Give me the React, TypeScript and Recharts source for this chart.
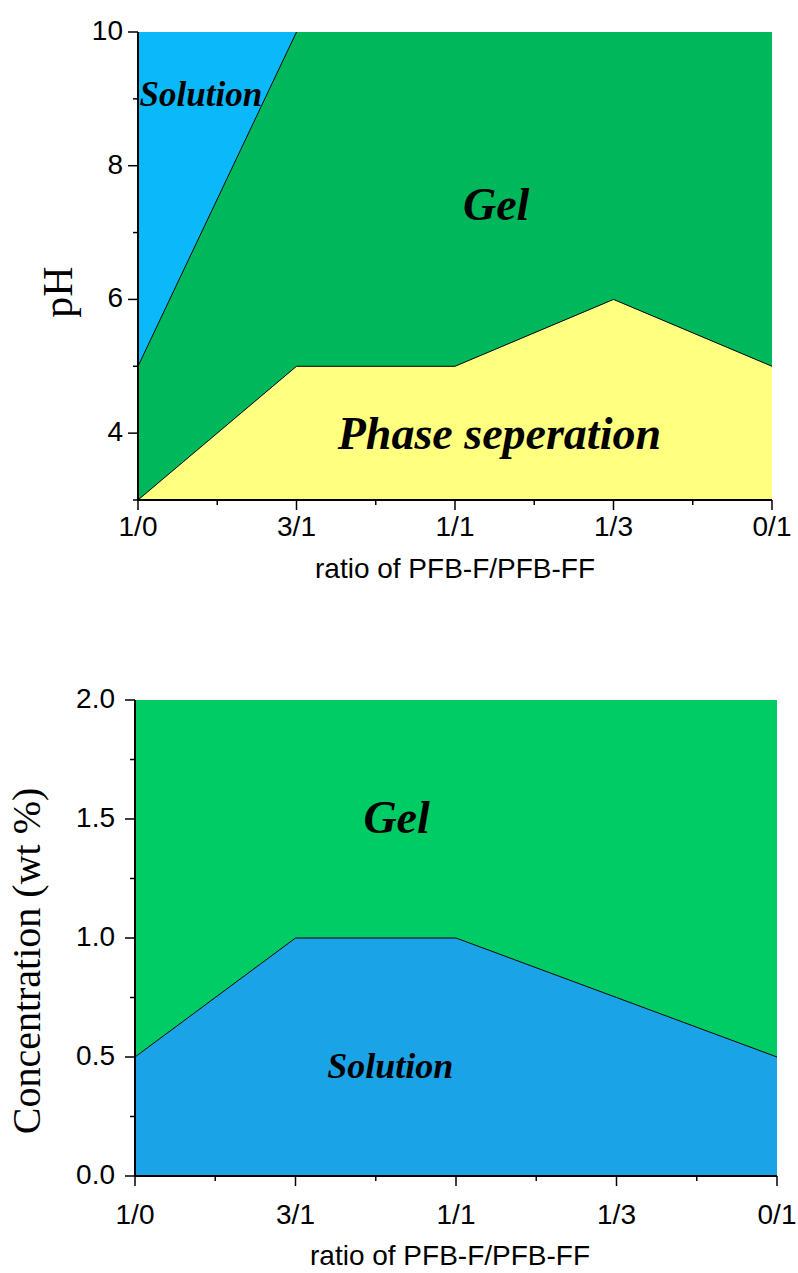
import { Area, ComposedChart, Line, ReferenceDot, XAxis, YAxis } from 'recharts';

const ratioLabels = ['1/0', '3/1', '1/1', '1/3', '0/1'];
const xTicks = [0, 0.5, 1, 1.5, 2, 2.5, 3, 3.5, 4];

// pH phase diagram
const pHDomain = [3, 10];
const pHTicks = [3, 4, 5, 6, 7, 8, 9, 10];
const pHMajor = [4, 6, 8, 10];
const phaseSeparationTop = [3, 5, 5, 6, 5];
const solutionBottom = [5, 10, 10, 10, 10];

// concentration phase diagram
const concDomain = [0, 2];
const concTicks = [0, 0.25, 0.5, 0.75, 1, 1.25, 1.5, 1.75, 2];
const concMajor = [0, 0.5, 1, 1.5, 2];
const gelBottom = [0.5, 1.0, 1.0, 0.75, 0.5];

const pHNotes = [
  { text: 'Solution', x: 0.01, y: 8.89, size: 35, anchor: 'start' },
  { text: 'Gel', x: 2.26, y: 7.19, size: 46, anchor: 'middle' },
  { text: 'Phase seperation', x: 2.28, y: 3.76, size: 46, anchor: 'middle' },
];
const concNotes = [
  { text: 'Gel', x: 1.63, y: 1.44, size: 46, anchor: 'middle' },
  { text: 'Solution', x: 1.59, y: 0.41, size: 36, anchor: 'middle' },
];

const SANS = '"Liberation Sans", Arial, sans-serif';
const SERIF = '"Liberation Serif", "Times New Roman", serif';

const pHData = ratioLabels.map((label, i) => ({
  x: i,
  label,
  yellow: [pHDomain[0], phaseSeparationTop[i]],
  green: [phaseSeparationTop[i], solutionBottom[i]],
  blue: [solutionBottom[i], pHDomain[1]],
  phaseLine: phaseSeparationTop[i],
  solLine: i === 0 || solutionBottom[i - 1] < pHDomain[1] ? solutionBottom[i] : null,
}));

const concData = ratioLabels.map((label, i) => ({
  x: i,
  label,
  blue: [concDomain[0], gelBottom[i]],
  green: [gelBottom[i], concDomain[1]],
  line: gelBottom[i],
}));

function leftTick(major: number[], gap: number, fmt: (v: number) => string) {
  return (props: any) => {
    const { x, y, payload } = props;
    const isMajor = major.includes(payload.value);
    return (
      <g>
        <line x1={x} x2={x - (isMajor ? 10 : 5)} y1={y} y2={y} stroke="#000" strokeWidth={1.5} />
        {isMajor && (
          <text x={x - gap} y={y} dy={8} textAnchor="end" fontFamily={SANS} fontSize={28} fill="#000">
            {fmt(payload.value)}
          </text>
        )}
      </g>
    );
  };
}

function bottomTick(offset: number) {
  return (props: any) => {
    const { x, y, payload } = props;
    const isMajor = Number.isInteger(payload.value);
    return (
      <g>
        <line x1={x} x2={x} y1={y} y2={y + (isMajor ? 10 : 5)} stroke="#000" strokeWidth={1.5} />
        {isMajor && (
          <text x={x} y={y + offset} textAnchor="middle" fontFamily={SANS} fontSize={28} fill="#000">
            {ratioLabels[payload.value]}
          </text>
        )}
      </g>
    );
  };
}

const topTick = (props: any) => (
  <line x1={props.x} x2={props.x} y1={props.y} y2={props.y + 3} stroke="#000" strokeWidth={1} />
);
const rightTick = (props: any) => (
  <line x1={props.x} x2={props.x + 3} y1={props.y} y2={props.y} stroke="#000" strokeWidth={1} />
);

function note(n: any) {
  return (
    <ReferenceDot
      key={n.text}
      x={n.x}
      y={n.y}
      r={0}
      ifOverflow="visible"
      shape={(p: any) => (
        <text
          x={p.cx}
          y={p.cy}
          textAnchor={n.anchor}
          fontFamily={SERIF}
          fontStyle="italic"
          fontWeight="bold"
          fontSize={n.size}
          fill="#000"
        >
          {n.text}
        </text>
      )}
    />
  );
}

function xTitle(dx: number, offset: number) {
  return ({ viewBox }: any) => (
    <text
      x={viewBox.x + viewBox.width / 2 + dx}
      y={viewBox.y + offset}
      textAnchor="middle"
      fontFamily={SANS}
      fontSize={28}
      fill="#000"
    >
      ratio of PFB-F/PFB-FF
    </text>
  );
}

function yTitle(text: string, baseX: number, dy: number, size: number) {
  return ({ viewBox }: any) => {
    const cy = viewBox.y + viewBox.height / 2 + dy;
    return (
      <text
        x={baseX}
        y={cy}
        transform={`rotate(-90, ${baseX}, ${cy})`}
        textAnchor="middle"
        fontFamily={SERIF}
        fontSize={size}
        fill="#000"
      >
        {text}
      </text>
    );
  };
}

export default function App() {
  return (
    <div style={{ position: 'absolute', left: 0, top: 0, width: 798, height: 1273, background: '#fff' }}>
      <div style={{ position: 'absolute', left: 0, top: 0 }}>
        <ComposedChart width={798} height={640} data={pHData} margin={{ top: 32, right: 26, bottom: 0, left: 0 }}>
          <Area dataKey="yellow" type="linear" fill="#FFFF80" fillOpacity={1} stroke="none" isAnimationActive={false} />
          <Area dataKey="green" type="linear" fill="#00B85C" fillOpacity={1} stroke="none" isAnimationActive={false} />
          <Area dataKey="blue" type="linear" fill="#0BB8FA" fillOpacity={1} stroke="none" isAnimationActive={false} />
          <Line dataKey="phaseLine" type="linear" stroke="#000" strokeWidth={1} dot={false} isAnimationActive={false} />
          <Line dataKey="solLine" type="linear" stroke="#000" strokeWidth={1} dot={false} isAnimationActive={false} />
          {pHNotes.map(note)}
          <XAxis
            dataKey="x"
            type="number"
            domain={[0, 4]}
            ticks={xTicks}
            interval={0}
            height={140}
            tickSize={0}
            tickMargin={0}
            tickLine={false}
            axisLine={{ stroke: '#000', strokeWidth: 2 }}
            tick={bottomTick(36)}
            label={{ content: xTitle(0, 78) }}
          />
          <XAxis
            xAxisId="top"
            orientation="top"
            type="number"
            domain={[0, 4]}
            ticks={xTicks}
            interval={0}
            height={0}
            tickSize={0}
            tickMargin={0}
            tickLine={false}
            axisLine={{ stroke: '#000', strokeWidth: 1.5 }}
            tick={topTick}
          />
          <YAxis
            type="number"
            domain={pHDomain}
            ticks={pHTicks}
            interval={0}
            width={138}
            tickSize={0}
            tickMargin={0}
            tickLine={false}
            axisLine={{ stroke: '#000', strokeWidth: 2 }}
            tick={leftTick(pHMajor, 15, (v) => String(v))}
            label={{ content: yTitle('pH', 72, 26, 42) }}
          />
          <YAxis
            yAxisId="right"
            orientation="right"
            type="number"
            domain={pHDomain}
            ticks={pHTicks}
            interval={0}
            width={0}
            tickSize={0}
            tickMargin={0}
            tickLine={false}
            axisLine={{ stroke: '#000', strokeWidth: 1.5 }}
            tick={rightTick}
          />
        </ComposedChart>
      </div>
      <div style={{ position: 'absolute', left: 0, top: 660 }}>
        <ComposedChart width={798} height={613} data={concData} margin={{ top: 40, right: 21, bottom: 0, left: 0 }}>
          <Area dataKey="blue" type="linear" fill="#1AA3E6" fillOpacity={1} stroke="none" isAnimationActive={false} />
          <Area dataKey="green" type="linear" fill="#00CC66" fillOpacity={1} stroke="none" isAnimationActive={false} />
          <Line dataKey="line" type="linear" stroke="#000" strokeWidth={1} dot={false} isAnimationActive={false} />
          {concNotes.map(note)}
          <XAxis
            dataKey="x"
            type="number"
            domain={[0, 4]}
            ticks={xTicks}
            interval={0}
            height={97}
            tickSize={0}
            tickMargin={0}
            tickLine={false}
            axisLine={{ stroke: '#000', strokeWidth: 2 }}
            tick={bottomTick(48)}
            label={{ content: xTitle(-6, 89) }}
          />
          <XAxis
            xAxisId="top"
            orientation="top"
            type="number"
            domain={[0, 4]}
            ticks={xTicks}
            interval={0}
            height={0}
            tickSize={0}
            tickMargin={0}
            tickLine={false}
            axisLine={{ stroke: '#000', strokeWidth: 1.5 }}
            tick={topTick}
          />
          <YAxis
            type="number"
            domain={concDomain}
            ticks={concTicks}
            interval={0}
            width={135}
            tickSize={0}
            tickMargin={0}
            tickLine={false}
            axisLine={{ stroke: '#000', strokeWidth: 2 }}
            tick={leftTick(concMajor, 20, (v) => v.toFixed(1))}
            label={{ content: yTitle('Concentration (wt %)', 40, 23, 40) }}
          />
          <YAxis
            yAxisId="right"
            orientation="right"
            type="number"
            domain={concDomain}
            ticks={concTicks}
            interval={0}
            width={0}
            tickSize={0}
            tickMargin={0}
            tickLine={false}
            axisLine={{ stroke: '#000', strokeWidth: 1.5 }}
            tick={rightTick}
          />
        </ComposedChart>
      </div>
    </div>
  );
}
